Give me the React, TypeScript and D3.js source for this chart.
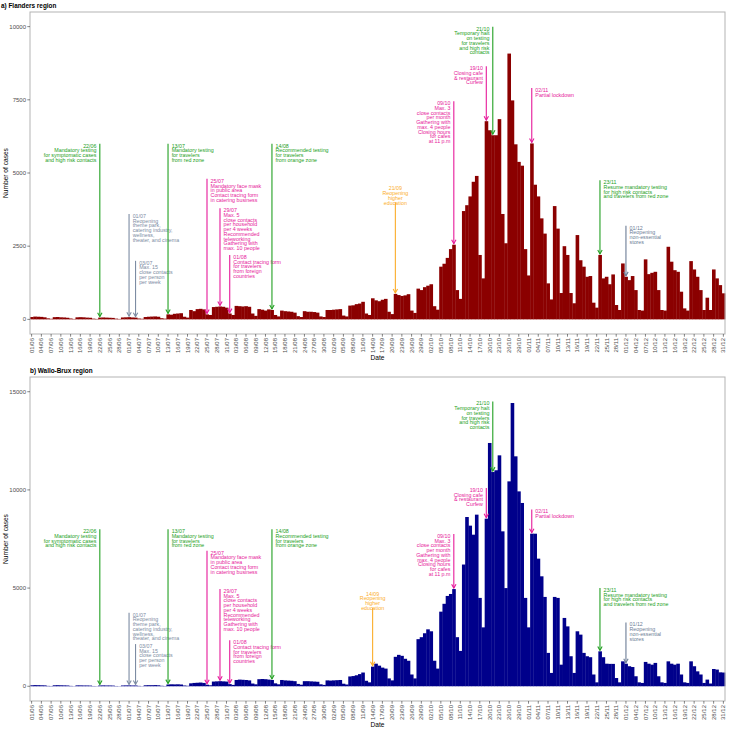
import React from "react";
import * as d3 from "d3";

const W = 733;
const H = 729;
const LEFT = 30;
const RIGHT = 725;

const days = d3.timeDay.range(new Date(2020, 5, 1), new Date(2021, 0, 1));
const dateLabels: string[] = days.map(d3.timeFormat("%d/%m"));

// Daily cases, Flanders (01/06 .. 31/12)
const flanders = [
  80, 95, 90, 85, 70, 35, 20,
  75, 80, 70, 65, 55, 30, 15,
  70, 75, 70, 60, 55, 25, 15,
  60, 65, 60, 55, 50, 25, 15,
  65, 70, 75, 65, 60, 30, 20,
  80, 90, 95, 100, 90, 40, 25,
  170, 160, 190, 200, 210, 90, 60,
  320, 280, 350, 360, 340, 170, 150,
  420, 430, 440, 430, 400, 200, 150,
  460, 450, 440, 450, 430, 200, 120,
  350, 330, 300, 340, 320, 150, 100,
  300, 280, 270, 260, 230, 110, 80,
  280, 260, 260, 250, 230, 100, 80,
  320, 320, 330, 340, 350, 130, 100,
  470, 480, 520, 540, 600, 200, 150,
  720, 650, 620, 670, 700, 260, 180,
  870, 830, 800, 820, 860, 300, 220,
  1050, 1000, 1100, 1150, 1200, 450, 330,
  1800, 1900, 2100, 2400, 2550, 1000, 700,
  3700, 3900, 4200, 4700, 4900, 2200, 1400,
  6770, 6460, 6290, 6290, 6840, 3600, 2600,
  9080, 7480, 5980, 5380, 5250, 2400, 1500,
  6010, 4600, 4200, 3450, 2930, 1230, 680,
  3870, 3100, 900, 2500, 2200, 900, 550,
  2880, 2020, 1800, 1455, 1480, 570, 400,
  2200, 1400, 1455, 1200, 1535, 490, 320,
  1910, 1455, 1340, 1480, 1000, 320, 300,
  2050, 1545, 1590, 1625, 1000, 320, 300,
  2480, 1970, 1680, 1625, 945, 375, 300,
  1990, 1705, 1455, 1000, 320, 740, 320,
  1705, 1400, 1170, 890,
];

// Daily cases, Wallonia + Brussels (01/06 .. 31/12)
const walloBrux = [
  50, 60, 55, 50, 45, 20, 15,
  50, 55, 50, 45, 40, 20, 10,
  45, 45, 40, 40, 35, 15, 10,
  40, 45, 40, 40, 35, 15, 10,
  40, 45, 45, 40, 40, 20, 10,
  50, 55, 55, 60, 50, 25, 15,
  90, 100, 95, 100, 90, 40, 25,
  150, 170, 180, 190, 170, 80, 50,
  240, 250, 260, 250, 240, 110, 70,
  320, 340, 330, 320, 300, 140, 100,
  360, 370, 360, 340, 320, 150, 100,
  320, 300, 290, 280, 260, 120, 80,
  260, 260, 250, 240, 230, 100, 70,
  300, 290, 300, 310, 320, 130, 90,
  500, 520, 560, 620, 700, 280, 200,
  1000, 1150, 1050, 950, 900, 400, 300,
  1500, 1600, 1550, 1400, 1300, 600, 400,
  2400, 2500, 2700, 2900, 2800, 1300, 900,
  3800, 4200, 4600, 4700, 4950, 2500, 1800,
  6200, 8620, 8180, 7720, 8740, 4500, 3000,
  8535, 12390, 10910, 11000, 11760, 7890, 5000,
  10435, 14425, 11710, 9925, 9335, 4500, 3000,
  7770, 7770, 6500, 5600, 4550, 1700, 680,
  4550, 4500, 1100, 3480, 3050, 1530, 680,
  2800, 2630, 1700, 1530, 1480, 600, 200,
  1780, 1480, 1150, 1140, 1140, 420, 200,
  1270, 1150, 1020, 980, 510, 200, 170,
  1240, 1150, 1100, 1190, 510, 200, 170,
  1270, 1150, 1100, 1150, 600, 200, 170,
  1270, 1020, 760, 600, 170, 340, 140,
  880, 850, 710, 700,
];

const flandersYTicks = [0, 2500, 5000, 7500, 10000];
const walloYTicks = [0, 5000, 10000, 15000];

const GREEN = "#22a022";
const PINK = "#e6199a";
const GREY = "#7d8ca3";
const SLATE = "#6c7d96";
const ORANGE = "#fbad2a";

type Note = {
  date: string;
  top: number;
  color: string;
  align: "left" | "right" | "center";
  lines: string[];
};

const flandersNotes: Note[] = [
  { date: "22/06", top: 6000, color: GREEN, align: "right", lines: ["22/06", "Mandatory testing", "for symptomatic cases", "and high risk contacts"] },
  { date: "01/07", top: 3600, color: GREY, align: "left", lines: ["01/07", "Reopening", "theme park,", "catering industry,", "wellness,", "theater, and cinema"] },
  { date: "03/07", top: 2000, color: GREY, align: "left", lines: ["03/07", "Max. 15", "close contacts", "per person", "per week"] },
  { date: "13/07", top: 6000, color: GREEN, align: "left", lines: ["13/07", "Mandatory testing", "for travelers", "from red zone"] },
  { date: "25/07", top: 4800, color: PINK, align: "left", lines: ["25/07", "Mandatory face mask", "in public area", "Contact tracing form", "in catering business"] },
  { date: "29/07", top: 3800, color: PINK, align: "left", lines: ["29/07", "Max. 5", "close contacts", "per household", "per 4 weeks", "Recommended", "teleworking", "Gathering with", "max. 10 people"] },
  { date: "01/08", top: 2200, color: PINK, align: "left", lines: ["01/08", "Contact tracing form", "for travelers", "from foreign", "countries"] },
  { date: "14/08", top: 6000, color: GREEN, align: "left", lines: ["14/08", "Recommended testing", "for travelers", "from orange zone"] },
  { date: "21/09", top: 4000, color: ORANGE, align: "center", lines: ["21/09", "Reopening", "higher", "education"] },
  { date: "09/10", top: 7450, color: PINK, align: "right", lines: ["09/10", "Max. 3", "close contacts", "per month", "Gathering with", "max. 4 people", "Closing hours", "for cafes", "at 11 p.m"] },
  { date: "19/10", top: 8650, color: PINK, align: "right", lines: ["19/10", "Closing cafe", "& restaurant", "Curfew"] },
  { date: "21/10", top: 10000, color: GREEN, align: "right", lines: ["21/10", "Temporary halt", "on testing", "for travelers", "and high risk", "contacts"] },
  { date: "02/11", top: 7900, color: PINK, align: "left", lines: ["02/11", "Partial lockdown"] },
  { date: "23/11", top: 4750, color: GREEN, align: "left", lines: ["23/11", "Resume mandatory testing", "for high risk contacts", "and travelers from red zone"] },
  { date: "01/12", top: 3200, color: SLATE, align: "left", lines: ["01/12", "Reopening", "non-essential", "stores"] },
];

const walloNotes: Note[] = [
  { date: "22/06", top: 8000, color: GREEN, align: "right", lines: ["22/06", "Mandatory testing", "for symptomatic cases", "and high risk contacts"] },
  { date: "01/07", top: 3750, color: GREY, align: "left", lines: ["01/07", "Reopening", "theme park,", "catering industry,", "wellness,", "theater, and cinema"] },
  { date: "03/07", top: 2150, color: GREY, align: "left", lines: ["03/07", "Max. 15", "close contacts", "per person", "per week"] },
  { date: "13/07", top: 8000, color: GREEN, align: "left", lines: ["13/07", "Mandatory testing", "for travelers", "from red zone"] },
  { date: "25/07", top: 6900, color: PINK, align: "left", lines: ["25/07", "Mandatory face mask", "in public area", "Contact tracing form", "in catering business"] },
  { date: "29/07", top: 4950, color: PINK, align: "left", lines: ["29/07", "Max. 5", "close contacts", "per household", "per 4 weeks", "Recommended", "teleworking", "Gathering with", "max. 10 people"] },
  { date: "01/08", top: 2350, color: PINK, align: "left", lines: ["01/08", "Contact tracing form", "for travelers", "from foreign", "countries"] },
  { date: "14/08", top: 8000, color: GREEN, align: "left", lines: ["14/08", "Recommended testing", "for travelers", "from orange zone"] },
  { date: "14/09", top: 4000, color: ORANGE, align: "center", lines: ["14/09", "Reopening", "higher", "education"] },
  { date: "09/10", top: 7750, color: PINK, align: "right", lines: ["09/10", "Max. 3", "close contacts", "per month", "Gathering with", "max. 4 people", "Closing hours", "for cafes", "at 11 p.m"] },
  { date: "19/10", top: 10100, color: PINK, align: "right", lines: ["19/10", "Closing cafe", "& restaurant", "Curfew"] },
  { date: "21/10", top: 14500, color: GREEN, align: "right", lines: ["21/10", "Temporary halt", "on testing", "for travelers", "and high risk", "contacts"] },
  { date: "02/11", top: 9000, color: PINK, align: "left", lines: ["02/11", "Partial lockdown"] },
  { date: "23/11", top: 5000, color: GREEN, align: "left", lines: ["23/11", "Resume mandatory testing", "for high risk contacts", "and travelers from red zone"] },
  { date: "01/12", top: 3250, color: SLATE, align: "left", lines: ["01/12", "Reopening", "non-essential", "stores"] },
];

const FONT = "'Liberation Sans', Arial, Helvetica, sans-serif";

type PanelProps = {
  y0: number;
  y1: number;
  domain: [number, number];
  values: number[];
  fill: string;
  yTicks: number[];
  notes: Note[];
  title: string;
  titleX: number;
  titleY: number;
};

function Panel({ y0, y1, domain, values, fill, yTicks, notes, title, titleX, titleY }: PanelProps) {
  const x = d3.scaleBand<string>().domain(dateLabels).range([LEFT, RIGHT]).padding(0);
  const y = d3.scaleLinear().domain(domain).range([y1, y0]);
  const bw = x.bandwidth();
  const xTicks = dateLabels.filter((_, i) => i % 3 === 0);
  const LH = 4.75;
  return (
    <g>
      <text x={titleX} y={titleY} fontWeight="bold" fontSize={6.4} fill="#000">{title}</text>
      {values.map((v, i) => (
        <rect key={i} x={x(dateLabels[i])!} y={y(v)} width={bw + 0.35} height={y(0) - y(v)} fill={fill} />
      ))}
      <rect x={LEFT} y={y0} width={RIGHT - LEFT} height={y1 - y0} fill="none" stroke="#b3b3b3" strokeWidth={1} />
      {yTicks.map((t) => (
        <g key={t}>
          <line x1={LEFT - 2.7} x2={LEFT} y1={y(t)} y2={y(t)} stroke="#333" strokeWidth={0.6} />
          <text x={LEFT - 4} y={y(t) + 2.1} textAnchor="end" fontSize={6} fill="#4d4d4d">{t}</text>
        </g>
      ))}
      {xTicks.map((d) => {
        const cx = x(d)! + bw / 2;
        return (
          <g key={d}>
            <line x1={cx} x2={cx} y1={y1} y2={y1 + 2.7} stroke="#333" strokeWidth={0.6} />
            <text transform={`translate(${cx + 2.1},${y1 + 4}) rotate(-90)`} textAnchor="end" fontSize={6} fill="#4d4d4d">{d}</text>
          </g>
        );
      })}
      <text x={(LEFT + RIGHT) / 2} y={y1 + 26} textAnchor="middle" fontSize={6.6} fill="#000">Date</text>
      <text transform={`translate(7.5,${(y0 + y1) / 2}) rotate(-90)`} textAnchor="middle" fontSize={6.6} fill="#000">Number of cases</text>
      {notes.map((n) => {
        const i = dateLabels.indexOf(n.date);
        const cx = x(n.date)! + bw / 2;
        const topY = y(n.top);
        const tipY = y(values[i]) - 1;
        let tx = cx;
        let anchor: "start" | "end" | "middle" = "middle";
        let firstBase = topY + 3.9;
        if (n.align === "left") { tx = cx + 3.6; anchor = "start"; }
        else if (n.align === "right") { tx = cx - 3.4; anchor = "end"; }
        else { firstBase = topY - 12 - (n.lines.length - 4) * LH; }
        return (
          <g key={n.date}>
            <line x1={cx} x2={cx} y1={topY} y2={tipY} stroke={n.color} strokeWidth={1.1} />
            <path d={`M${cx - 2.2},${tipY - 3.9}L${cx},${tipY}L${cx + 2.2},${tipY - 3.9}`} fill="none" stroke={n.color} strokeWidth={1.1} />
            <text fontSize={5.3} fill={n.color} textAnchor={anchor}>
              {n.lines.map((l, k) => (
                <tspan key={k} x={tx} y={firstBase + k * LH}>{l}</tspan>
              ))}
            </text>
          </g>
        );
      })}
    </g>
  );
}

export default function App() {
  return (
    <svg width={W} height={H} style={{ position: "absolute", left: 0, top: 0, background: "#fff" }} fontFamily={FONT}>
      <rect x={0} y={0} width={W} height={H} fill="#fff" />
      <Panel y0={12} y1={334} domain={[-500, 10500]} values={flanders} fill="#8b0000" yTicks={flandersYTicks}
        notes={flandersNotes} title="a) Flanders region" titleX={1} titleY={8} />
      <Panel y0={377} y1={701} domain={[-750, 15750]} values={walloBrux} fill="#00008b" yTicks={walloYTicks}
        notes={walloNotes} title="b) Wallo-Brux region" titleX={30} titleY={373} />
    </svg>
  );
}
